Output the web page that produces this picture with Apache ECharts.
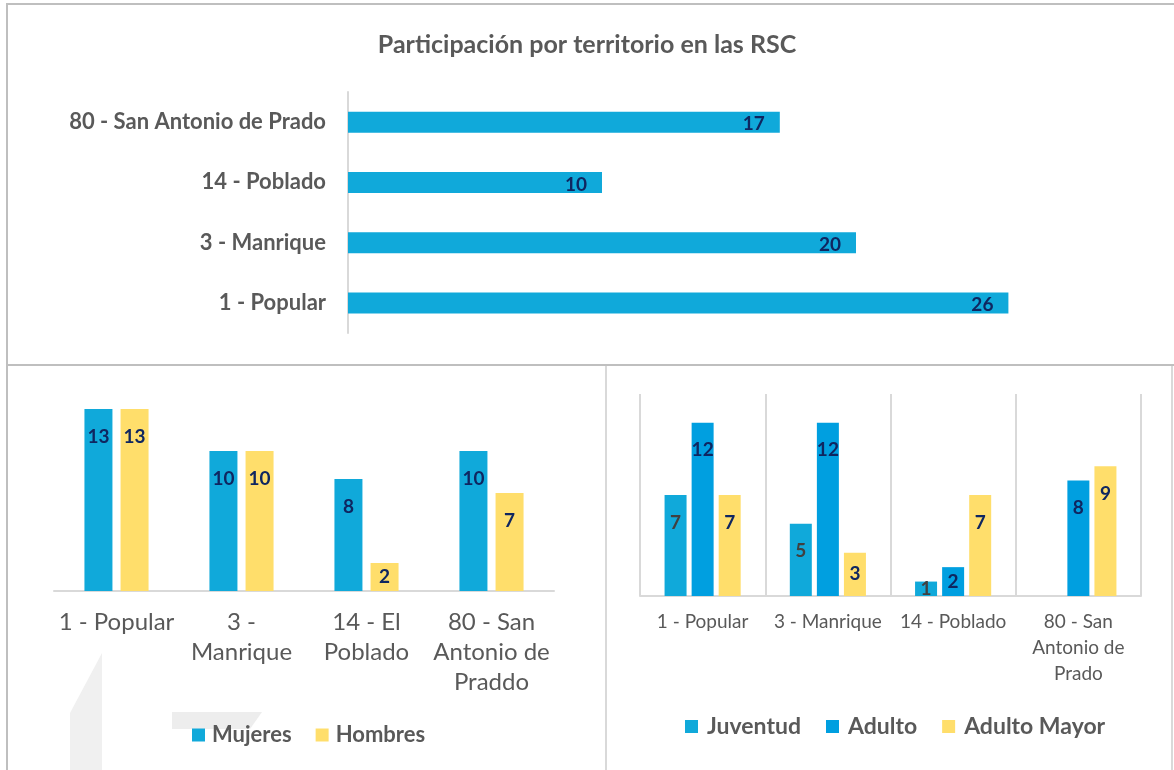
<!DOCTYPE html>
<html>
<head>
<meta charset="utf-8">
<script src="https://cdn.jsdelivr.net/npm/echarts@6/dist/echarts.min.js"></script>
<style>
html,body{margin:0;padding:0;background:#fff;}
#c{width:1174px;height:770px;}
</style>
</head>
<body>
<div id="c"></div>
<script>
// ---- Data ----
const titleText = 'Participación por territorio en las RSC';
const topCats = ['1 - Popular', '3 - Manrique', '14 - Poblado', '80 - San Antonio de Prado'];
const topValues = [26, 20, 10, 17];

const genderCats = ['1 - Popular', '3 -\nManrique', '14 - El\nPoblado', '80 - San\nAntonio de\nPraddo'];
const mujeres = [13, 10, 8, 10];
const hombres = [13, 10, 2, 7];

const ageCats = ['1 - Popular', '3 - Manrique', '14 - Poblado', '80 - San\nAntonio de\nPrado'];
const juventud = [7, 5, 1, null];
const adulto = [12, 12, 2, 8];
const adultoMayor = [7, 3, 7, 9];

// ---- Styles ----
const FONT = 'Lato, "Open Sans", sans-serif';
const CYAN = '#10A9DA';
const BLUE = '#009FE0';
const YELLOW = '#FFDE6B';
const NAVY = '#0F2660';
const GRAY_TXT = '#595959';

function items(arr) {
  return arr.map(v => {
    if (v == null) return null;
    if (v <= 3) return { value: v, label: { position: 'inside', distance: 0 } };
    return v;
  });
}
function barLabel(color) {
  return { show: true, position: 'insideTop', distance: 18, color: color, fontFamily: FONT, fontWeight: 'bold', fontSize: 19 };
}

const chart = echarts.init(document.getElementById('c'), null, { renderer: 'canvas' });
const option = {
  backgroundColor: '#fff',
  animation: false,
  title: {
    text: titleText, left: 'center', top: 27,
    textStyle: { fontFamily: FONT, fontWeight: 'bold', fontSize: 25, color: GRAY_TXT }
  },
  legend: [
    {
      data: ['Mujeres', 'Hombres'], left: 187, top: 719, itemWidth: 13, itemHeight: 13, itemGap: 24,
      icon: 'rect',
      textStyle: { fontFamily: FONT, fontWeight: 'bold', fontSize: 22, color: GRAY_TXT, padding: [0, 0, 0, 2] }
    },
    {
      data: ['Juventud', 'Adulto', 'Adulto Mayor'], left: 680, top: 710, itemWidth: 13, itemHeight: 13, itemGap: 25,
      icon: 'rect',
      textStyle: { fontFamily: FONT, fontWeight: 'bold', fontSize: 23, color: GRAY_TXT, padding: [0, 0, 0, 4] }
    }
  ],
  grid: [
    { left: 348, top: 92, width: 762, height: 241 },
    { left: 54, top: 395, width: 500, height: 196 },
    { left: 640, top: 394, width: 501, height: 202 }
  ],
  xAxis: [
    { gridIndex: 0, type: 'value', min: 0, max: 30, show: false },
    {
      gridIndex: 1, type: 'category', data: genderCats,
      axisLine: { lineStyle: { color: '#D9D9D9', width: 2 } }, axisTick: { show: false },
      axisLabel: { fontFamily: FONT, fontSize: 24, color: GRAY_TXT, lineHeight: 30, margin: 16, interval: 0 }
    },
    {
      gridIndex: 2, type: 'category', data: ageCats,
      axisLine: { lineStyle: { color: '#D9D9D9', width: 2 } }, axisTick: { show: false },
      splitLine: { show: true, lineStyle: { color: '#D9D9D9', width: 2 } },
      axisLabel: { fontFamily: FONT, fontSize: 19, color: GRAY_TXT, lineHeight: 26, margin: 13, interval: 0 }
    }
  ],
  yAxis: [
    {
      gridIndex: 0, type: 'category', data: topCats,
      axisLine: { show: true, lineStyle: { color: '#D9D9D9', width: 2 } }, axisTick: { show: false },
      axisLabel: { fontFamily: FONT, fontWeight: 'bold', fontSize: 22, color: GRAY_TXT, margin: 22 }
    },
    { gridIndex: 1, type: 'value', min: 0, max: 14, show: false, splitLine: { show: false } },
    { gridIndex: 2, type: 'value', min: 0, max: 14, show: false, splitLine: { show: false } }
  ],
  series: [
    {
      type: 'bar', xAxisIndex: 0, yAxisIndex: 0, data: topValues, barWidth: 21,
      itemStyle: { color: CYAN },
      label: { show: true, position: 'insideRight', distance: 15, color: NAVY, fontFamily: FONT, fontWeight: 'bold', fontSize: 19, offset: [0, 2] }
    },
    {
      name: 'Mujeres', type: 'bar', xAxisIndex: 1, yAxisIndex: 1, data: items(mujeres), barWidth: 28, barGap: '29%',
      itemStyle: { color: CYAN }, label: barLabel(NAVY)
    },
    {
      name: 'Hombres', type: 'bar', xAxisIndex: 1, yAxisIndex: 1, data: items(hombres), barWidth: 28, barGap: '29%',
      itemStyle: { color: YELLOW }, label: barLabel(NAVY)
    },
    {
      name: 'Juventud', type: 'bar', xAxisIndex: 2, yAxisIndex: 2, data: items(juventud), barWidth: 22, barGap: '23%',
      itemStyle: { color: CYAN }, label: barLabel('#404040')
    },
    {
      name: 'Adulto', type: 'bar', xAxisIndex: 2, yAxisIndex: 2, data: items(adulto), barWidth: 22, barGap: '23%',
      itemStyle: { color: BLUE }, label: barLabel(NAVY)
    },
    {
      name: 'Adulto Mayor', type: 'bar', xAxisIndex: 2, yAxisIndex: 2, data: items(adultoMayor), barWidth: 22, barGap: '23%',
      itemStyle: { color: YELLOW }, label: barLabel(NAVY)
    }
  ],
  graphic: [
    // faint watermark shapes
    { type: 'polygon', z: -10, silent: true, shape: { points: [[70, 713], [102, 653], [102, 770], [70, 770]] }, style: { fill: '#F0F0F0' } },
    { type: 'polygon', z: -10, silent: true, shape: { points: [[172, 712], [262, 712], [250, 729], [172, 729]] }, style: { fill: '#EDEDED' } },
    // panel borders
    { type: 'line', silent: true, shape: { x1: 6, y1: 4, x2: 1174, y2: 4 }, style: { stroke: '#BFBFBF', lineWidth: 2 } },
    { type: 'line', silent: true, shape: { x1: 7, y1: 3, x2: 7, y2: 770 }, style: { stroke: '#BFBFBF', lineWidth: 2 } },
    { type: 'line', silent: true, shape: { x1: 6, y1: 365, x2: 1174, y2: 365 }, style: { stroke: '#BFBFBF', lineWidth: 2 } },
    { type: 'line', silent: true, shape: { x1: 606, y1: 366, x2: 606, y2: 770 }, style: { stroke: '#D9D9D9', lineWidth: 2 } },
    { type: 'line', silent: true, shape: { x1: 1172, y1: 366, x2: 1172, y2: 770 }, style: { stroke: '#D9D9D9', lineWidth: 2 } }
  ]
};
chart.setOption(option);
</script>
</body>
</html>
